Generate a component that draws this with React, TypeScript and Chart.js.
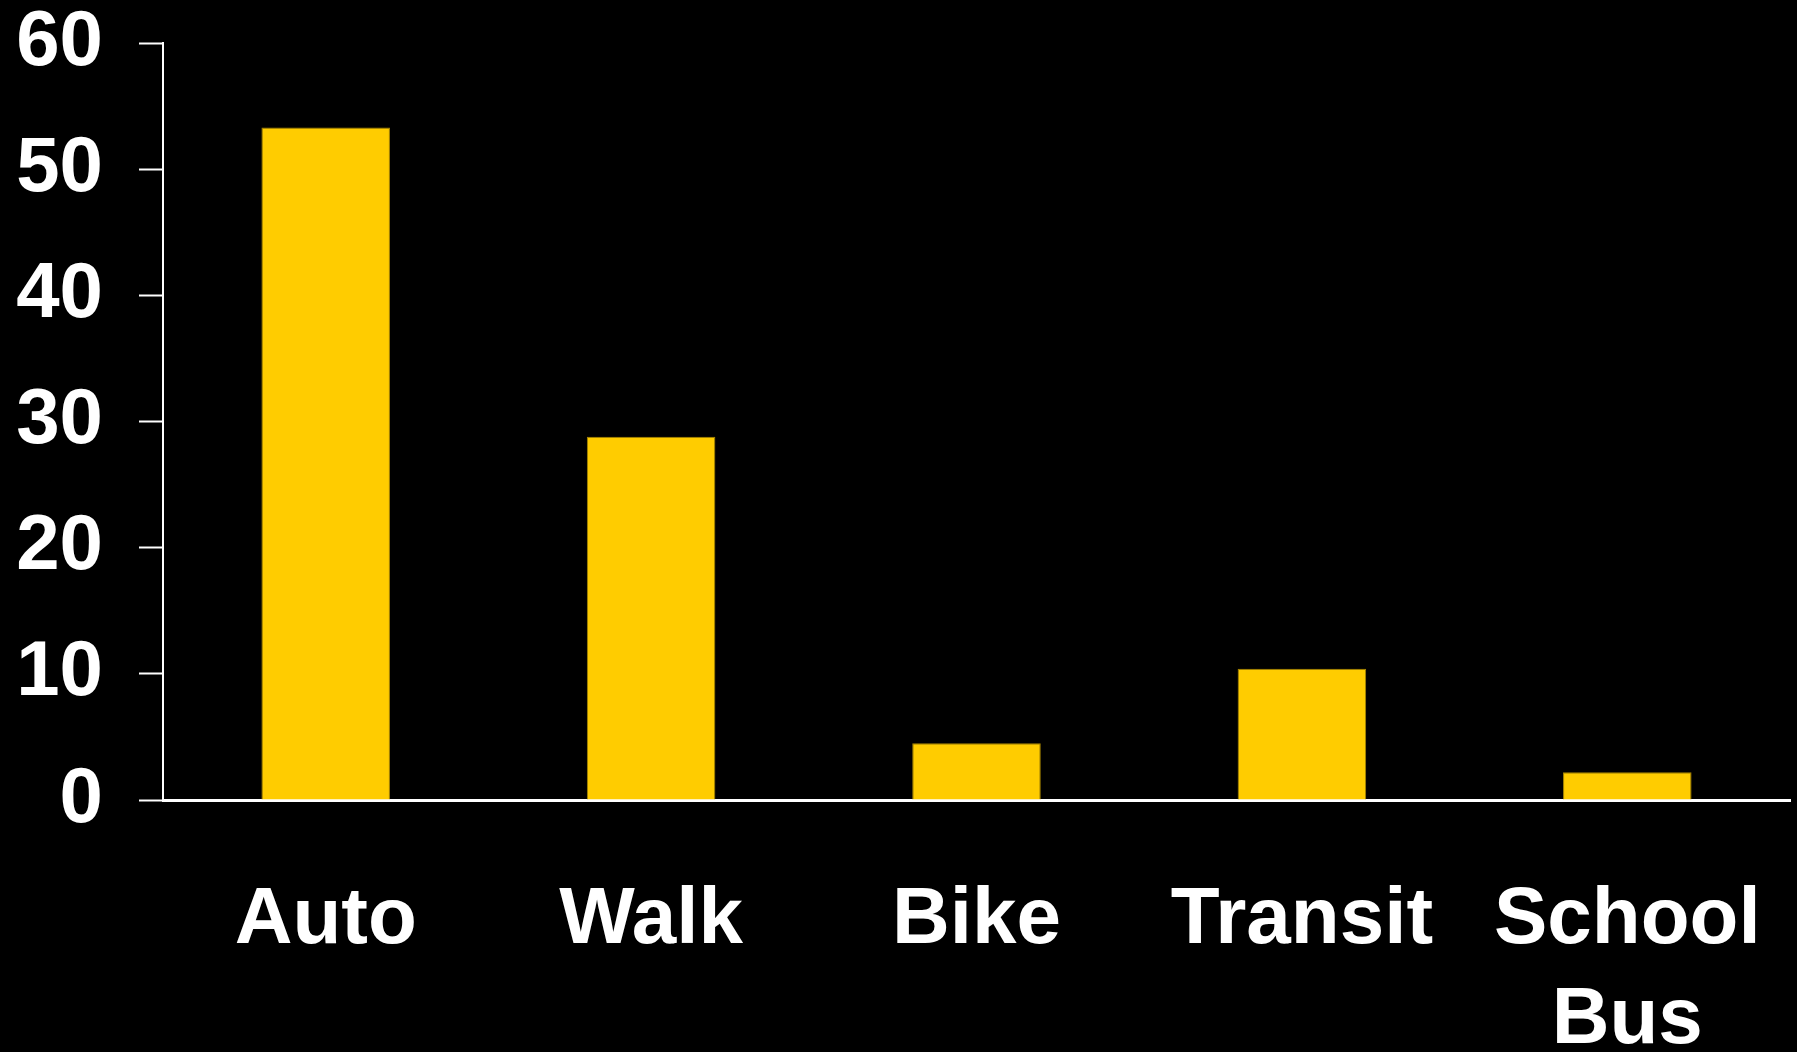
import React, { useEffect, useRef } from "react";
import { Chart, registerables } from "chart.js";

Chart.register(...registerables);

const categories: (string | string[])[] = ["Auto", "Walk", "Bike", "Transit", ["School", "Bus"]];
const shares: number[] = [53.3, 28.8, 4.5, 10.4, 2.2];
const yTicks: number[] = [0, 10, 20, 30, 40, 50, 60];

const W = 1797;
const H = 1052;
const FONT = "'Liberation Sans', Arial, Helvetica, sans-serif";

export default function App() {
  const ref = useRef<HTMLCanvasElement | null>(null);

  useEffect(() => {
    if (!ref.current) return;
    const chart = new Chart(ref.current, {
      type: "bar",
      data: {
        labels: categories,
        datasets: [
          {
            data: shares,
            backgroundColor: "#FFCC00",
            borderColor: "#a88600",
            borderWidth: 1,
            categoryPercentage: 1,
            barPercentage: 0.395,
          },
        ],
      },
      options: {
        animation: false,
        responsive: false,
        layout: { padding: { left: 16, top: 43, right: 7, bottom: 0 } },
        plugins: { legend: { display: false }, tooltip: { enabled: false } },
        scales: {
          x: {
            grid: { display: false, drawTicks: false },
            border: { display: true, color: "#ffffff", width: 3 },
            afterFit: (axis: any) => {
              axis.paddingLeft = 0;
              axis.paddingRight = 0;
              axis.height = 252;
            },
            ticks: {
              color: "#ffffff",
              padding: 71,
              maxRotation: 0,
              autoSkip: false,
              font: { family: FONT, size: 80, weight: "bold", lineHeight: 1.25 },
            },
          },
          y: {
            min: 0,
            max: 60,
            afterBuildTicks: (axis: any) => {
              axis.ticks = yTicks.map((v) => ({ value: v }));
            },
            afterFit: (axis: any) => {
              axis.paddingTop = 0;
              axis.paddingBottom = 0;
              axis.width = 147;
            },
            grid: {
              drawOnChartArea: false,
              drawTicks: true,
              tickLength: 24,
              tickWidth: 2,
              tickColor: "#ffffff",
            },
            border: { display: true, color: "#ffffff", width: 2 },
            ticks: {
              color: "#ffffff",
              padding: 36,
              font: { family: FONT, size: 78, weight: "bold", lineHeight: 1 },
            },
          },
        },
      },
    });
    return () => chart.destroy();
  }, []);

  return (
    <div style={{ position: "fixed", left: 0, top: 0, width: W, height: H, background: "#000" }}>
      <canvas ref={ref} width={W} height={H} style={{ display: "block", width: W, height: H }} />
    </div>
  );
}
